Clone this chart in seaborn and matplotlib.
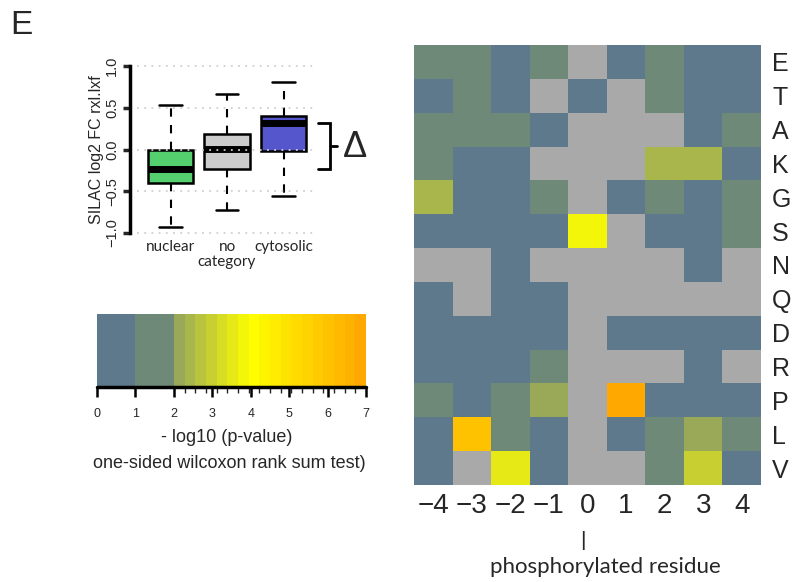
import numpy as np
import matplotlib
matplotlib.use('Agg')
import matplotlib.pyplot as plt
import matplotlib.colors as mcolors
import seaborn as sns

sns.set_theme(style="white")
plt.rcParams['font.family'] = ['Liberation Sans', 'DejaVu Sans']
plt.rcParams['axes.unicode_minus'] = True

# --- boxplot data (summary stats) ---
box_groups = ['nuclear', 'no\ncategory', 'cytosolic']
box_low = [-0.93, -0.73, -0.56]
box_q1 = [-0.40, -0.23, -0.02]
box_med = [-0.23, 0.01, 0.32]
box_q3 = [0.00, 0.19, 0.40]
box_high = [0.53, 0.66, 0.81]
box_colors = ['#55D06E', '#CCCCCC', '#5555CC']

# --- heatmap data: -log10(p), NaN = not tested / grey ---
residues = ['E', 'T', 'A', 'K', 'G', 'S', 'N', 'Q', 'D', 'R', 'P', 'L', 'V']
positions = ['\u22124', '\u22123', '\u22122', '\u22121', '0', '1', '2', '3', '4']
N = np.nan
pvals = np.array([
    [1.5, 1.5, 0.5, 1.5, N, 0.5, 1.5, 0.5, 0.5],
    [0.5, 1.5, 0.5, N, 0.5, N, 1.5, 0.5, 0.5],
    [1.5, 1.5, 1.5, 0.5, N, N, N, 0.5, 1.5],
    [1.5, 0.5, 0.5, N, N, N, 2.4, 2.4, 0.5],
    [2.4, 0.5, 0.5, 1.5, N, 0.5, 1.5, 0.5, 1.5],
    [0.5, 0.5, 0.5, 0.5, 3.9, N, 0.5, 0.5, 1.5],
    [N, N, 0.5, N, N, N, N, 0.5, N],
    [0.5, N, 0.5, 0.5, N, N, N, N, N],
    [0.5, 0.5, 0.5, 0.5, N, 0.5, 0.5, 0.5, 0.5],
    [0.5, 0.5, 0.5, 1.5, N, N, N, 0.5, N],
    [1.5, 0.5, 1.5, 2.1, N, 7.0, 0.5, 0.5, 0.5],
    [0.5, 6.1, 1.5, 0.5, N, 0.5, 1.5, 2.1, 1.5],
    [0.5, N, 3.5, 0.5, N, N, 1.5, 3.0, 0.5],
])

# --- colour scale: two flat bands then olive -> yellow -> orange steps ---
n_steps = 18
grad = mcolors.LinearSegmentedColormap.from_list(
    'g', [(0, '#93A35F'), (0.4, '#FFFF00'), (1, '#FFA500')])
step_edges = np.linspace(2, 7, n_steps + 1)
step_mid = (step_edges[:-1] + step_edges[1:]) / 2
band_colors = ['#5E798B', '#6F8978'] + [grad((m - 2) / 5) for m in step_mid]
bounds = [0, 1] + list(step_edges)
cmap = mcolors.ListedColormap(band_colors)
norm = mcolors.BoundaryNorm(bounds, cmap.N)

W, H = 793, 582
fig = plt.figure(figsize=(W / 100, H / 100), dpi=100)

def px_axes(x0, y0, x1, y1):
    return fig.add_axes([x0 / W, 1 - y1 / H, (x1 - x0) / W, (y1 - y0) / H])

# ---------------- boxplot ----------------
ax = px_axes(130, 66, 313, 233)
stats = []
for i in range(3):
    stats.append(dict(whislo=box_low[i], q1=box_q1[i], med=box_med[i],
                      q3=box_q3[i], whishi=box_high[i], fliers=[]))
bp = ax.bxp(stats, positions=[1, 2, 3], widths=0.8, patch_artist=True,
            showfliers=False, capwidths=0.4,
            boxprops=dict(linewidth=1.8, edgecolor='black'),
            medianprops=dict(color='black', linewidth=5, solid_capstyle='butt'),
            whiskerprops=dict(color='black', linewidth=1.5, linestyle=(0, (4, 4))),
            capprops=dict(color='black', linewidth=1.8))
for patch, c in zip(bp['boxes'], box_colors):
    patch.set_facecolor(c)
ax.hlines([-1, -0.5, 0, 0.5, 1], 0.41, 3.52, colors='#D0D0D0',
          linestyles=(0, (1, 3)), linewidth=1.3, zorder=5, clip_on=False)
ax.set_xlim(0.283, 3.522)
ax.set_ylim(-1, 1)
for s in ['top', 'right', 'bottom']:
    ax.spines[s].set_visible(False)
ax.spines['left'].set_linewidth(2.5)
ax.spines['left'].set_color('black')
ax.set_yticks([-1, -0.5, 0, 0.5, 1])
ax.set_yticklabels(['\u22121.0', '\u22120.5', '0.0', '0.5', '1.0'],
                   rotation=90, va='center', fontsize=10.5)
ax.tick_params(axis='y', direction='out', length=5, width=2.5, pad=3, left=True)
ax.set_xticks([1, 2, 3])
ax.set_xticklabels(box_groups, fontsize=11, family=['Lato', 'DejaVu Sans'],
                   va='top', linespacing=1.1)
ax.tick_params(axis='x', length=0, pad=5)
ax.set_ylabel('SILAC log2 FC rxl.lxf', fontsize=11.5, labelpad=1)
ax.grid(False)

# bracket and delta
top_b, bot_b = box_med[2], box_med[0]
ax.plot([3.61, 3.82, 3.82, 3.61], [top_b, top_b, bot_b, bot_b], color='black',
        lw=2, clip_on=False, solid_joinstyle='miter')
ax.plot([3.82, 3.95], [(top_b + bot_b) / 2] * 2, color='black', lw=2, clip_on=False)
ax.text(4.27, 0.02, '\u0394', fontsize=26, ha='center', va='center')

# ---------------- colour key ----------------
cax = px_axes(97, 314, 366, 387)
sm = matplotlib.cm.ScalarMappable(norm=norm, cmap=cmap)
cb = fig.colorbar(sm, cax=cax, orientation='horizontal', spacing='proportional')
cb.outline.set_visible(False)
cb.set_ticks(range(8))
cb.set_ticklabels([str(i) for i in range(8)])
cax.tick_params(axis='x', direction='out', length=7, width=1.8, labelsize=9,
                pad=8, color='black', bottom=True)
cax.axhline(cax.get_ylim()[0], color='black', lw=2.5, clip_on=False)
fig.text(227 / W, 1 - 437 / H, '- log10 (p-value)', fontsize=13,
         ha='center', va='center')
fig.text(229 / W, 1 - 463 / H, 'one-sided wilcoxon rank sum test)',
         fontsize=13, ha='center', va='center')

# ---------------- heatmap ----------------
hax = px_axes(414, 45, 761, 485)
hax.set_facecolor('#A9A9A9')
sns.heatmap(pvals, ax=hax, cmap=cmap, norm=norm, cbar=False,
            xticklabels=positions, yticklabels=residues)
hax.yaxis.tick_right()
hax.tick_params(axis='y', length=0, pad=8, labelsize=18, rotation=0)
hax.tick_params(axis='x', length=0, pad=6, labelsize=20, rotation=0)
for lbl in hax.get_yticklabels():
    lbl.set_ha('left')
fig.text(583 / W, 1 - 540 / H, '|', fontsize=15, ha='center', va='center')
fig.text(605 / W, 1 - 567 / H, 'phosphorylated residue', fontsize=16,
         ha='center', va='center', family=['Lato', 'DejaVu Sans'])

fig.text(10 / W, 1 - 25 / H, 'E', fontsize=24, ha='left', va='center')

fig.savefig('out.png', dpi=100, facecolor='white')
